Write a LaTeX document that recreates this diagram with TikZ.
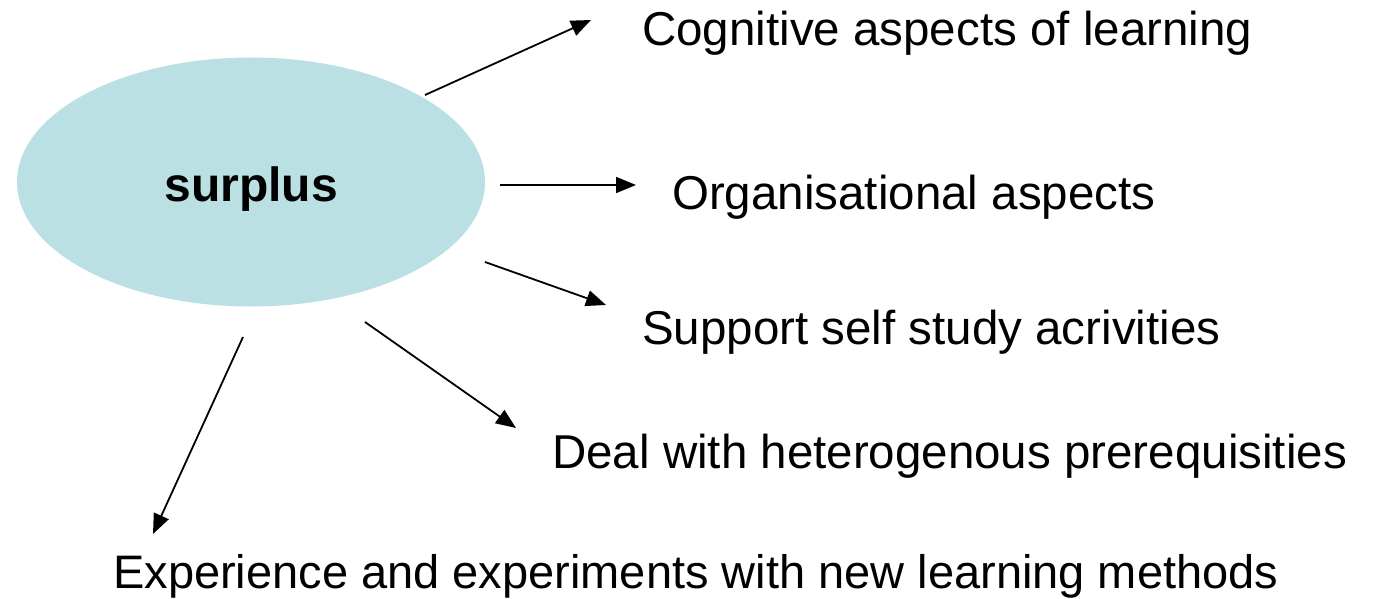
\documentclass[tikz,border=0pt]{standalone}
\usepackage{fontspec}
\setmainfont{Liberation Sans}
\usetikzlibrary{arrows.meta,shapes.geometric}
\definecolor{ellfill}{HTML}{BAE0E3}
\tikzset{
  lbl/.style={anchor=west, inner sep=0pt, font=\fontsize{47.5}{54}\selectfont},
  conn/.style={line width=1.8pt, -{Triangle[length=20pt,width=16pt]}},
}
\begin{document}
\begin{tikzpicture}[x=1pt,y=-1pt]
\useasboundingbox (0,0) rectangle (1376,599);
\node[ellipse, fill=ellfill, minimum width=468pt, minimum height=249pt, inner sep=0pt, draw=none] (ell) at (251,182) {};
\node[inner sep=0pt, font=\fontsize{48}{54}\selectfont\bfseries] (sur) at (251,189) {surplus};
\node[lbl] (t1) at (642,33) {Cognitive aspects of learning};
\node[lbl] (t2) at (672,197) {Organisational aspects};
\node[lbl] (t3) at (642,332) {Support self study acrivities};
\node[lbl] (t4) at (552,456) {Deal with heterogenous prerequisities};
\node[lbl, font=\fontsize{47}{54}\selectfont] (t5) at (113,576) {Experience and experiments with new learning methods};
\coordinate (s1) at (425,95);  \coordinate (e1) at (591,20);
\coordinate (s2) at (500,185); \coordinate (e2) at (636,185);
\coordinate (s3) at (485,262); \coordinate (e3) at (606,305);
\coordinate (s4) at (365,322); \coordinate (e4) at (516,428);
\coordinate (s5) at (243,337); \coordinate (e5) at (153,534);
\draw[conn] (s1) -- (e1);
\draw[conn] (s2) -- (e2);
\draw[conn] (s3) -- (e3);
\draw[conn] (s4) -- (e4);
\draw[conn] (s5) -- (e5);
\end{tikzpicture}
\end{document}
